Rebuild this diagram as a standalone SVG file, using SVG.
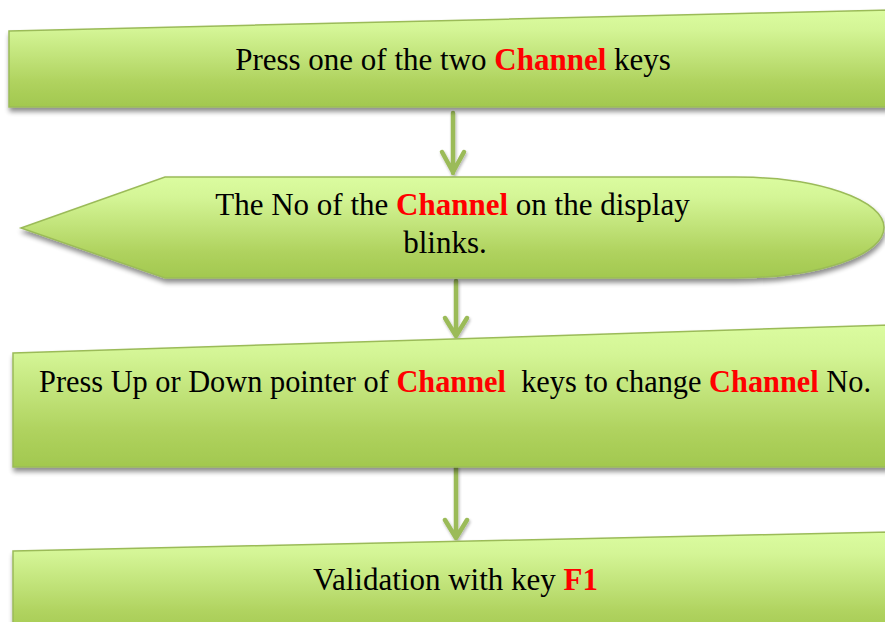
<svg xmlns="http://www.w3.org/2000/svg" width="885" height="622" viewBox="0 0 885 622">
<defs>
<linearGradient id="g" x1="0" y1="0" x2="0" y2="1">
<stop offset="0" stop-color="#DBFCA0"/>
<stop offset="0.2" stop-color="#D4F596"/>
<stop offset="0.75" stop-color="#AFD25E"/>
<stop offset="1" stop-color="#A2C84F"/>
</linearGradient>
<filter id="sh" x="-5%" y="-20%" width="110%" height="150%">
<feGaussianBlur in="SourceAlpha" stdDeviation="2.5"/>
<feOffset dx="1" dy="4" result="b"/>
<feComponentTransfer in="b" result="c"><feFuncA type="linear" slope="0.45"/></feComponentTransfer>
<feMerge><feMergeNode in="c"/><feMergeNode in="SourceGraphic"/></feMerge>
</filter>
<filter id="ash" x="-50%" y="-10%" width="200%" height="130%">
<feGaussianBlur in="SourceAlpha" stdDeviation="1.5"/>
<feOffset dx="1" dy="2" result="b"/>
<feComponentTransfer in="b" result="c"><feFuncA type="linear" slope="0.3"/></feComponentTransfer>
<feMerge><feMergeNode in="c"/><feMergeNode in="SourceGraphic"/></feMerge>
</filter>
</defs>
<style>
.shape{fill:url(#g);stroke:#9BBB59;stroke-width:1.5;filter:url(#sh)}
.t{font-family:"Liberation Serif","Times New Roman",serif;font-size:31px;fill:#000}
.r{fill:#FF0000;font-weight:bold}
.arr{fill:none;stroke:#9BBB59;stroke-width:4.5;stroke-linecap:round;stroke-linejoin:round;filter:url(#ash)}
</style>
<rect width="885" height="622" fill="#fff"/>
<g id="connectors">
<path class="arr" d="M453,113 V173 M442,152 L453,172 L464,152"/>
<path class="arr" d="M456,281 V336 M445,318 L456,336 L467,318"/>
<path class="arr" d="M456,466 V538 M445,520 L456,538 L467,520"/>
</g>
<g id="n1">
<polygon class="shape" points="9,31 890,10 890,107 9,107"/>
<text class="t" x="453" y="70" text-anchor="middle">Press one of the two <tspan class="r">Channel</tspan> keys</text>
</g>
<g id="n2">
<path class="shape" d="M21,228 L165,177 L735,177 A149,50.5 0 0 1 735,278 L165,278 Z"/>
<text class="t" x="452.5" y="215" text-anchor="middle">The No of the <tspan class="r">Channel</tspan> on the display</text>
<text class="t" x="445" y="252.5" text-anchor="middle">blinks.</text>
</g>
<g id="n3">
<polygon class="shape" points="13,353 890,325 890,467 13,467"/>
<text class="t" x="39" y="392" xml:space="preserve" textLength="832" lengthAdjust="spacingAndGlyphs">Press Up or Down pointer of <tspan class="r">Channel</tspan>  keys to change <tspan class="r">Channel</tspan> No.</text>
</g>
<g id="n4">
<polygon class="shape" points="13,551 890,532 890,640 13,640"/>
<text class="t" x="455.5" y="590" text-anchor="middle">Validation with key <tspan class="r">F1</tspan></text>
</g>
</svg>
